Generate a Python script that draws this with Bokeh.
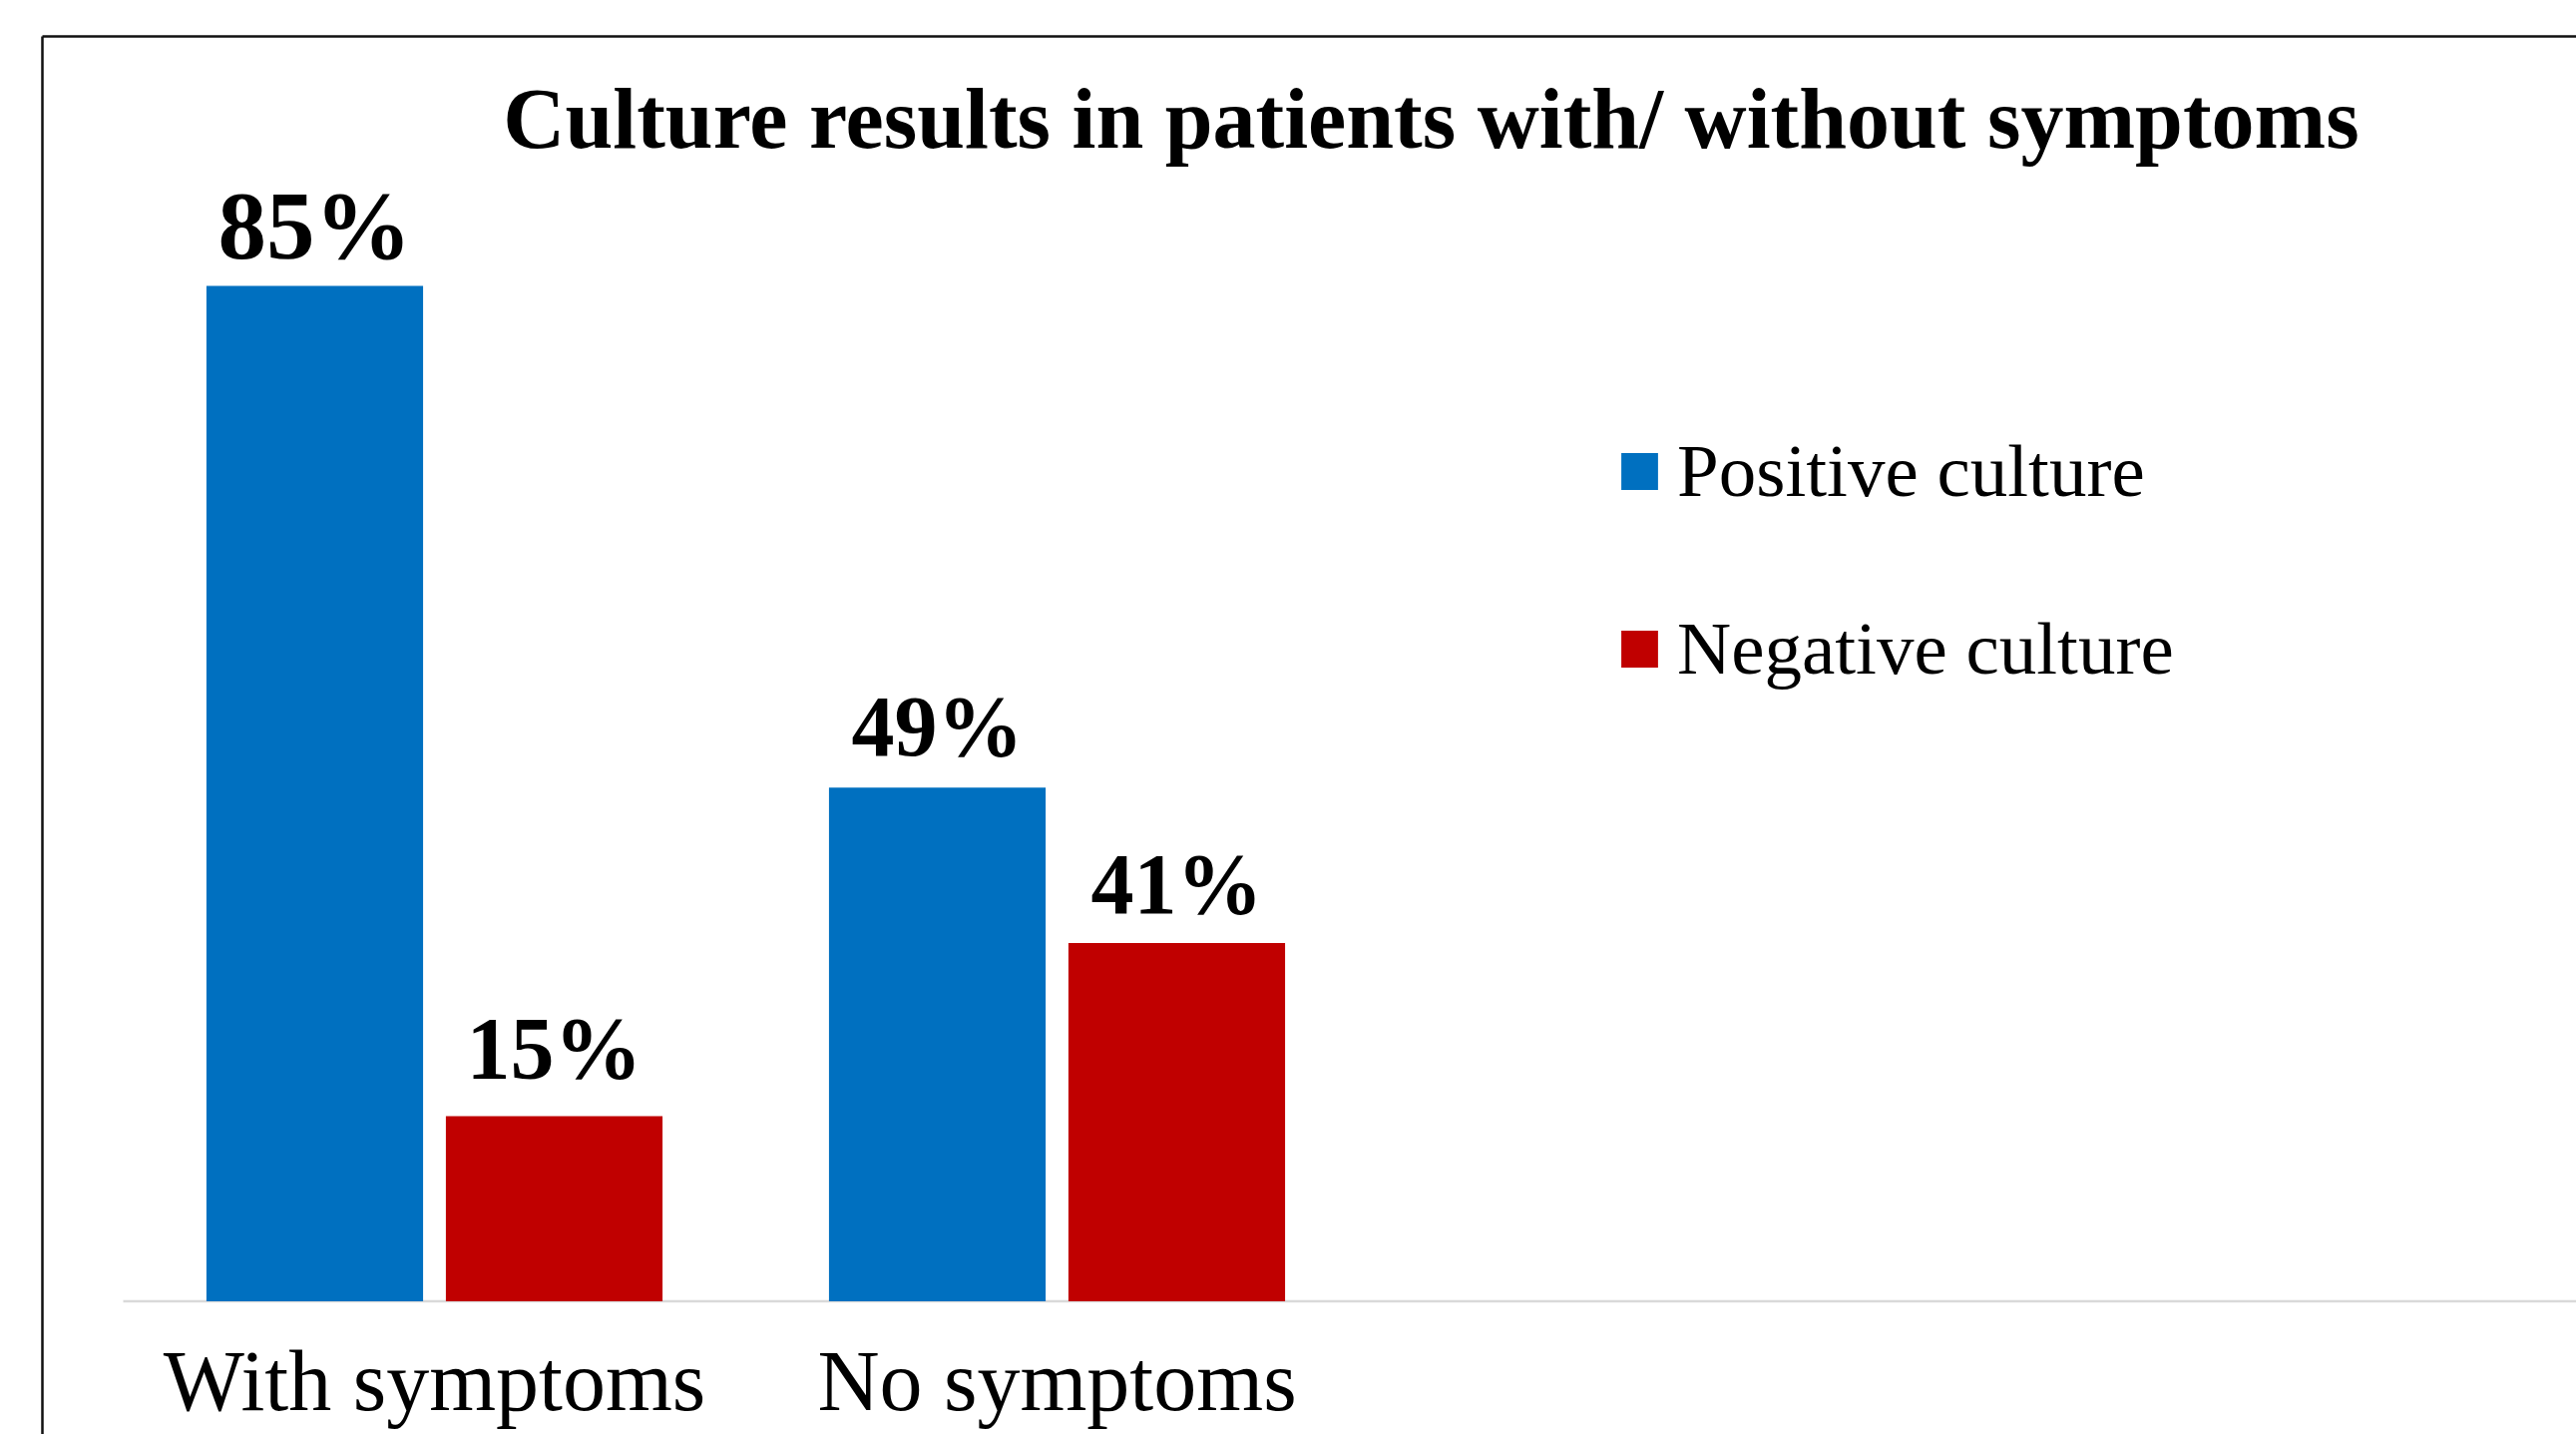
from bokeh.plotting import figure
from bokeh.models import Range1d, Legend, LegendItem
from bokeh.core.properties import value
from bokeh.embed import file_html
from bokeh.resources import INLINE
import numpy as np

# ---- data ----
title_text = "Culture results in patients with/ without symptoms"
categories = ["With symptoms", "No symptoms"]
series_names = ["Positive culture", "Negative culture"]
positive = [85, 43]
negative = [15.5, 30]
positive_labels = ["85%", "49%"]
negative_labels = ["15%", "41%"]

BLUE = "#0070C0"
RED = "#C00000"
SERIF = "Liberation Serif"

W, H = 2582, 1437
p = figure(width=W, height=H,
           x_range=Range1d(-0.1971, 3.9407),
           y_range=Range1d(-11.15, 108.9),
           output_backend="svg", toolbar_location=None,
           x_axis_location=None, y_axis_location=None,
           min_border_left=0, min_border_right=0,
           min_border_top=0, min_border_bottom=0)
p.outline_line_color = None
p.xgrid.grid_line_color = None
p.ygrid.grid_line_color = None
p.background_fill_color = "white"
p.border_fill_color = "white"

# pixel ranges for decorations (border, title)
p.extra_x_ranges = {"px": Range1d(0, W)}
p.extra_y_ranges = {"px": Range1d(H, 0)}

# border of chart area
p.segment(x0=[42, 42], y0=[36, 36], x1=[2700, 42], y1=[36, 1500],
          x_range_name="px", y_range_name="px",
          line_color="#111111", line_width=2.5)

# title
p.text(x=[1434], y=[118], text=[title_text], x_range_name="px", y_range_name="px",
       text_font=value(SERIF), text_font_style="bold", text_font_size="86px",
       text_align="center", text_baseline="alphabetic", text_color="black")

x_idx = np.arange(len(categories)) + 0.5
dx = 0.1923
bw = 0.348

# baseline
p.ray(x=[0], y=[0], length=0, angle=0, line_color="#D9D9D9", line_width=2.5)

r_pos = p.vbar(x=x_idx - dx, top=positive, bottom=0, width=bw,
               fill_color=BLUE, line_color=None)
r_neg = p.vbar(x=x_idx + dx, top=negative, bottom=0, width=bw,
               fill_color=RED, line_color=None)

label_style = {("pos", 0): ("97px", -60), ("neg", 0): ("88px", -68),
               ("pos", 1): ("86px", -61), ("neg", 1): ("86px", -59)}
for key, xs, vals, labs in (("pos", x_idx - dx, positive, positive_labels),
                            ("neg", x_idx + dx, negative, negative_labels)):
    for i in range(len(categories)):
        size, off = label_style[(key, i)]
        p.text(x=[xs[i]], y=[vals[i]], text=[labs[i]],
               text_font=value(SERIF), text_font_style="bold",
               text_font_size=size,
               text_align="center", text_baseline="alphabetic",
               y_offset=off, text_color="black")

# category labels
p.text(x=x_idx, y=[0] * len(categories), text=categories,
       text_font=value(SERIF), text_font_size="86px",
       text_align="center", text_baseline="alphabetic",
       y_offset=80, text_color="black")

legend = Legend(items=[LegendItem(label=series_names[0], renderers=[r_pos]),
                       LegendItem(label=series_names[1], renderers=[r_neg])],
                location=(1620, 744), orientation="vertical",
                glyph_width=46, glyph_height=46, label_standoff=15,
                label_text_font=SERIF, label_text_font_size="75px",
                label_text_color="black",
                spacing=92, padding=0, margin=0,
                border_line_color=None, background_fill_alpha=0)
p.add_layout(legend)

open("out.html", "w").write(file_html(p, INLINE))
